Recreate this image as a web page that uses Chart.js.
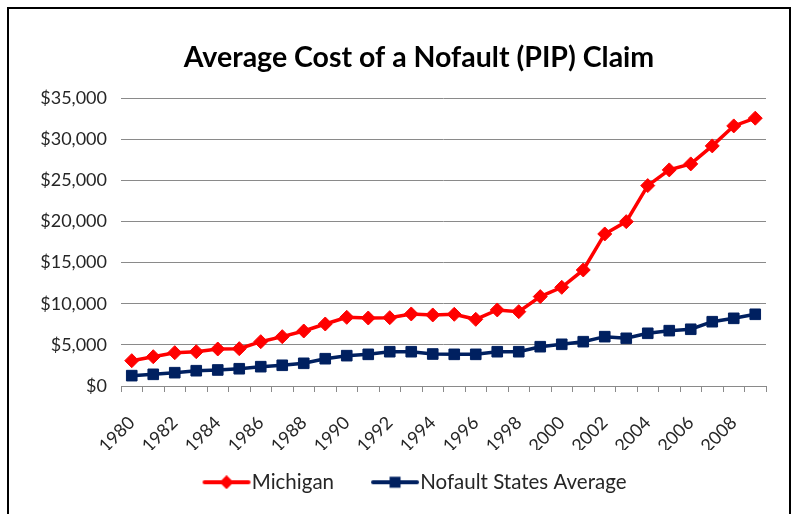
<!DOCTYPE html>
<html>
<head>
<meta charset="utf-8">
<script src="https://cdn.jsdelivr.net/npm/chart.js@4.4.1/dist/chart.umd.min.js"></script>
<style>
  html, body { margin: 0; padding: 0; background: #fff; }
  #wrap { width: 804px; height: 514px; }
</style>
</head>
<body>
<div id="wrap"><canvas id="chart" width="804" height="514"></canvas></div>
<script>
var years = ['1980', '1981', '1982', '1983', '1984', '1985', '1986', '1987', '1988', '1989',
	'1990', '1991', '1992', '1993', '1994', '1995', '1996', '1997', '1998', '1999',
	'2000', '2001', '2002', '2003', '2004', '2005', '2006', '2007', '2008', '2009'];

var michigan = [3080, 3560, 4050, 4170, 4500, 4540, 5390, 6000, 6690, 7540,
	8350, 8270, 8310, 8760, 8640, 8720, 8110, 9250, 9040, 10870,
	12000, 14110, 18490, 19990, 24370, 26280, 27010, 29200, 31630, 32570];

var nofaultAverage = [1260, 1420, 1620, 1860, 1950, 2100, 2350, 2520, 2760, 3320,
	3690, 3850, 4170, 4170, 3890, 3850, 3850, 4170, 4170, 4780,
	5070, 5390, 6000, 5800, 6410, 6730, 6900, 7820, 8230, 8720];

var yTicks = { min: 0, max: 35000, step: 5000 };

var fontFamily = 'Lato, "Open Sans", sans-serif';
var textColor = '#262626';
var gridColor = '#8a8a8a';

// small legend swatch: line with the marker in the middle, like Excel
function legendSwatch(color, shape) {
	var c = document.createElement('canvas');
	c.width = 56;
	c.height = 14;
	var g = c.getContext('2d');
	g.strokeStyle = color;
	g.fillStyle = color;
	g.lineWidth = 4;
	g.lineCap = 'round';
	g.beginPath();
	g.moveTo(6, 7);
	g.lineTo(50, 7);
	g.stroke();
	g.beginPath();
	if (shape === 'diamond') {
		g.moveTo(28, 0);
		g.lineTo(35, 7);
		g.lineTo(28, 14);
		g.lineTo(21, 7);
	} else {
		g.rect(22.5, 1.5, 11, 11);
	}
	g.closePath();
	g.fill();
	return c;
}

var frame = {
	id: 'frame',
	beforeDraw: function (chart) {
		var ctx = chart.ctx;
		ctx.save();
		ctx.strokeStyle = '#000';
		ctx.lineWidth = 2;
		ctx.strokeRect(8, 8, 782, 530);
		ctx.restore();
	}
};

// the original centres title and legend a bit right of the canvas centre,
// and the legend sits closer to the axis labels
var nudge = {
	id: 'nudge',
	afterLayout: function (chart) {
		var t = chart.titleBlock, l = chart.legend;
		if (t) { t.left += 32; t.right += 32; }
		if (l) { l.left += 32; l.right += 32; l.top -= 24; }
	}
};

var swatches = [legendSwatch('#ff0000', 'diamond'), legendSwatch('#002060', 'square')];

new Chart(document.getElementById('chart'), {
	type: 'line',
	data: {
		labels: years,
		datasets: [{
			label: 'Michigan',
			data: michigan,
			borderColor: '#ff0000',
			backgroundColor: '#ff0000',
			borderWidth: 3.5,
			pointStyle: 'rectRot',
			pointRadius: 7,
			pointBorderWidth: 1,
			tension: 0
		}, {
			label: 'Nofault States Average',
			data: nofaultAverage,
			borderColor: '#002060',
			backgroundColor: '#002060',
			borderWidth: 3.5,
			pointStyle: 'rect',
			pointRadius: 7.5,
			pointBorderWidth: 1,
			tension: 0
		}]
	},
	options: {
		responsive: false,
		animation: false,
		layout: { padding: { left: 8, right: 38, top: 0, bottom: 10 } },
		plugins: {
			title: {
				display: true,
				text: 'Average Cost of a Nofault (PIP) Claim',
				color: '#000',
				font: { family: fontFamily, size: 28.5, weight: 'bold' },
				padding: { top: 41, bottom: 23 }
			},
			legend: {
				position: 'bottom',
				maxHeight: 54,
				labels: {
					color: textColor,
					font: { family: fontFamily, size: 20.5 },
					usePointStyle: true,
					pointStyleWidth: 30,
					padding: 46,
					generateLabels: function (chart) {
						return chart.data.datasets.map(function (ds, i) {
							return {
								text: ds.label,
								fontColor: textColor,
								pointStyle: swatches[i],
								datasetIndex: i,
								lineWidth: 0,
								strokeStyle: 'transparent',
								fillStyle: 'transparent'
							};
						});
					}
				}
			},
			tooltip: { enabled: false }
		},
		scales: {
			x: {
				offset: true,
				afterFit: function (scale) { scale.height = 64; },
				grid: {
					offset: true,
					drawOnChartArea: false,
					color: gridColor,
					tickLength: 6
				},
				border: { color: gridColor, width: 1 },
				ticks: {
					autoSkip: false,
					minRotation: 45,
					maxRotation: 45,
					padding: 20,
					color: textColor,
					font: { family: fontFamily, size: 18 },
					callback: function (value, index) {
						return index % 2 === 0 ? years[index] : '';
					}
				}
			},
			y: {
				min: yTicks.min,
				max: yTicks.max,
				afterFit: function (scale) { scale.width = 113; },
				grid: { color: gridColor, drawTicks: false },
				border: { display: false },
				ticks: {
					stepSize: yTicks.step,
					padding: 14,
					color: textColor,
					font: { family: fontFamily, size: 18 },
					callback: function (value) {
						return '$' + value.toLocaleString('en-US');
					}
				}
			}
		}
	},
	plugins: [frame, nudge]
});
</script>
</body>
</html>
